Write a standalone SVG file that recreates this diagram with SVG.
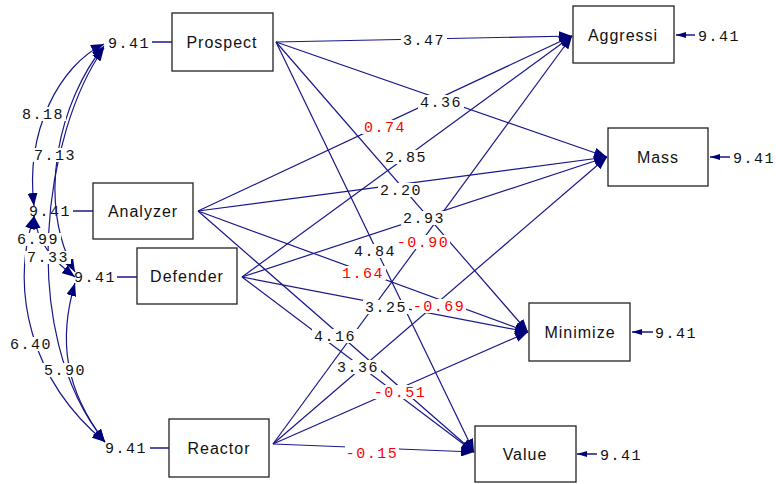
<svg xmlns="http://www.w3.org/2000/svg" width="776" height="484" viewBox="0 0 776 484">
<style>
.box{fill:#fff;stroke:#222;stroke-width:1.3}
.nt{font-family:"Liberation Sans",Arial,sans-serif;font-size:16px;letter-spacing:1px;fill:#111;text-anchor:middle}
.num{font-family:"Liberation Mono","Courier New",monospace;font-size:15px;letter-spacing:1.5px;text-anchor:middle;fill:#111}
.red{fill:#ff0000}
.lbg{fill:#fff}
.e{stroke:#18188a;stroke-width:1.2;fill:none;marker-end:url(#ah)}
.c{stroke:#18188a;stroke-width:1.2;fill:none;marker-start:url(#ah2);marker-end:url(#ah2)}
.s{stroke:#18188a;stroke-width:1.5;fill:none}
.er{stroke:#18188a;stroke-width:1.5;fill:none;marker-end:url(#sm)}
</style>
<defs>
<marker id="ah" viewBox="0 0 13 10" refX="13" refY="5" markerWidth="13" markerHeight="10" markerUnits="userSpaceOnUse" orient="auto"><path d="M0,0 L13,5 L0,10 z" fill="#00007a"/></marker>
<marker id="ah2" viewBox="0 0 13 10" refX="13" refY="5" markerWidth="13" markerHeight="10" markerUnits="userSpaceOnUse" orient="auto-start-reverse"><path d="M0,0 L13,5 L0,10 z" fill="#00007a"/></marker>
<marker id="sm" viewBox="0 0 10 6" refX="10" refY="3" markerWidth="10" markerHeight="6" markerUnits="userSpaceOnUse" orient="auto"><path d="M0,0 L10,3 L0,6 z" fill="#00007a"/></marker>
</defs>
<rect width="776" height="484" fill="#fff"/>

<g id="variance-labels">
<text class="num" x="129" y="48">9.41</text>
<text class="num" x="50" y="216">9.41</text>
<text class="num" x="95" y="282">9.41</text>
<text class="num" x="126" y="453">9.41</text>
<line class="s" x1="152" y1="42" x2="172" y2="42"/>
<line class="s" x1="73" y1="211" x2="93" y2="211"/>
<line class="s" x1="117" y1="277" x2="137" y2="277"/>
<line class="s" x1="150" y1="448" x2="169" y2="448"/>
</g>

<g id="connectors">
<path class="c" d="M104,44 C60,65 25,130 34,206"/>
<path class="c" d="M104,46 C60,100 35,200 75,272"/>
<path class="c" d="M104,48 C45,130 15,330 105,442"/>
<path class="c" d="M34,216 C38,245 55,262 75,277"/>
<path class="c" d="M34,216 C10,290 30,380 105,442"/>
<path class="c" d="M75,283 C58,340 65,390 105,442"/>
<line class="e" x1="276" y1="42" x2="572" y2="36"/>
<line class="e" x1="276" y1="42" x2="607" y2="157"/>
<line class="e" x1="276" y1="42" x2="528" y2="332"/>
<line class="e" x1="276" y1="42" x2="474" y2="452"/>
<line class="e" x1="198" y1="211" x2="572" y2="36"/>
<line class="e" x1="198" y1="211" x2="607" y2="157"/>
<line class="e" x1="198" y1="211" x2="528" y2="332"/>
<line class="e" x1="198" y1="211" x2="474" y2="452"/>
<line class="e" x1="242" y1="277" x2="572" y2="36"/>
<line class="e" x1="242" y1="277" x2="607" y2="157"/>
<line class="e" x1="242" y1="277" x2="528" y2="332"/>
<line class="e" x1="242" y1="277" x2="474" y2="452"/>
<line class="e" x1="273" y1="444" x2="572" y2="36"/>
<line class="e" x1="273" y1="444" x2="607" y2="157"/>
<line class="e" x1="273" y1="444" x2="528" y2="332"/>
<line class="e" x1="273" y1="444" x2="474" y2="452"/>
<line class="er" x1="695" y1="35" x2="676" y2="35"/>
<line class="er" x1="730" y1="157" x2="710" y2="157"/>
<line class="er" x1="653" y1="332" x2="632" y2="332"/>
<line class="er" x1="597" y1="454" x2="577" y2="454"/>
</g>

<g id="labels">
<rect class="lbg" x="20" y="107" width="46" height="14"/><text class="num" x="43" y="119">8.18</text>
<rect class="lbg" x="32" y="148" width="46" height="14"/><text class="num" x="55" y="160">7.13</text>
<rect class="lbg" x="25" y="251" width="46" height="13"/><text class="num" x="48" y="262">7.33</text>
<rect class="lbg" x="15" y="233" width="46" height="13"/><text class="num" x="38" y="244">6.99</text>
<rect class="lbg" x="8" y="337" width="46" height="14"/><text class="num" x="31" y="349">6.40</text>
<rect class="lbg" x="42" y="363" width="46" height="14"/><text class="num" x="65" y="375">5.90</text>

<rect class="lbg" x="401" y="33" width="46" height="14"/><text class="num" x="424" y="45">3.47</text>
<rect class="lbg" x="418" y="95" width="46" height="14"/><text class="num" x="441" y="107">4.36</text>
<rect class="lbg" x="362" y="120" width="46" height="14"/><text class="num red" x="385" y="132">0.74</text>
<rect class="lbg" x="383" y="150" width="46" height="14"/><text class="num" x="406" y="162">2.85</text>
<rect class="lbg" x="378" y="183" width="46" height="14"/><text class="num" x="401" y="195">2.20</text>
<rect class="lbg" x="401" y="211" width="46" height="14"/><text class="num" x="424" y="223">2.93</text>
<rect class="lbg" x="396" y="235" width="54" height="14"/><text class="num red" x="423" y="247">-0.90</text>
<rect class="lbg" x="352" y="244" width="46" height="14"/><text class="num" x="375" y="256">4.84</text>
<rect class="lbg" x="340" y="266" width="46" height="14"/><text class="num red" x="363" y="278">1.64</text>
<rect class="lbg" x="363" y="300" width="46" height="14"/><text class="num" x="386" y="312">3.25</text>
<rect class="lbg" x="412" y="299" width="54" height="14"/><text class="num red" x="439" y="311">-0.69</text>
<rect class="lbg" x="312" y="329" width="46" height="14"/><text class="num" x="335" y="341">4.16</text>
<rect class="lbg" x="335" y="360" width="46" height="14"/><text class="num" x="358" y="372">3.36</text>
<rect class="lbg" x="373" y="385" width="54" height="14"/><text class="num red" x="400" y="397">-0.51</text>
<rect class="lbg" x="345" y="446" width="54" height="14"/><text class="num red" x="372" y="458">-0.15</text>

<text class="num" x="719" y="41">9.41</text>
<text class="num" x="754" y="163">9.41</text>
<text class="num" x="676" y="338">9.41</text>
<text class="num" x="621" y="460">9.41</text>
</g>

<g id="Prospect"><rect class="box" x="172" y="13" width="101" height="58"/><text class="nt" x="222" y="48">Prospect</text></g>
<g id="Analyzer"><rect class="box" x="93" y="183" width="100" height="56"/><text class="nt" x="143" y="217">Analyzer</text></g>
<g id="Defender"><rect class="box" x="137" y="248" width="100" height="56"/><text class="nt" x="187" y="282">Defender</text></g>
<g id="Reactor"><rect class="box" x="169" y="419" width="100" height="58"/><text class="nt" x="219" y="454">Reactor</text></g>
<g id="Aggressi"><rect class="box" x="573" y="6" width="101" height="57"/><text class="nt" x="623" y="41">Aggressi</text></g>
<g id="Mass"><rect class="box" x="608" y="128" width="100" height="58"/><text class="nt" x="658" y="163">Mass</text></g>
<g id="Minimize"><rect class="box" x="529" y="303" width="101" height="58"/><text class="nt" x="580" y="338">Minimize</text></g>
<g id="Value"><rect class="box" x="475" y="426" width="101" height="56"/><text class="nt" x="525" y="460">Value</text></g>
</svg>
